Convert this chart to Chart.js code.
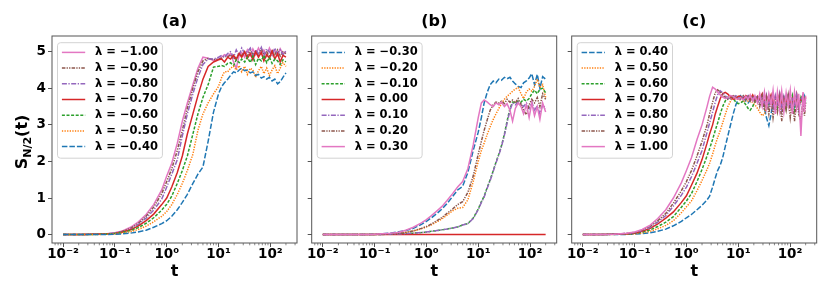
<!DOCTYPE html>
<html>
<head>
<meta charset="utf-8">
<script src="https://cdn.jsdelivr.net/npm/chart.js@4.4.1/dist/chart.umd.min.js"></script>
<style>
  body { margin: 0; background: #fff; width: 830px; height: 291px; position: relative; overflow: hidden; }
  canvas { position: absolute; top: 0; }
</style>
</head>
<body>
<canvas id="pa" width="304" height="291" style="left:0px"></canvas>
<canvas id="pb" width="262" height="291" style="left:300px"></canvas>
<canvas id="pc" width="270" height="291" style="left:560px"></canvas>
<script>
// time grids
const tAB = [0.01,0.02,0.04,0.07,0.1,0.14,0.2,0.28,0.4,0.56,0.8,1,1.25,1.6,2,2.5,3.2,4,5,6.3,8,10,
  11.5,13,15,17,19.5,22,25,28,32,36,41,46,52,59,67,75,85,96,108,122,138,155,175,200];
const tC = [0.01,0.02,0.04,0.07,0.1,0.14,0.2,0.28,0.4,0.56,0.8,1,1.25,1.6,2,2.5,2.8,3.2,3.6,4,4.5,5,5.6,6.3,7.1,8,9,10,
  11,12.5,14,15.5,17,19,21,23.5,26,29,32,35,39,43,47,52,57,63,69,76,84,92,101,111,122,134,147,162,178,190,200];

// lambda values per panel
const lamA = [-1.0, -0.9, -0.8, -0.7, -0.6, -0.5, -0.4];
const lamB = [-0.3, -0.2, -0.1, 0.0, 0.1, 0.2, 0.3];
const lamC = [0.4, 0.5, 0.6, 0.7, 0.8, 0.9, 1.0];

// tick labels
const yTicks = [0, 1, 2, 3, 4, 5];
const xTicks = [0.01, 0.1, 1, 10, 100];
const xTickText = ['10⁻²', '10⁻¹', '10⁰', '10¹', '10²'];

// panel (a)
const sA_n100 = [0,0,0.01,0.02,0.05,0.1,0.2,0.34,0.55,0.82,1.22,1.6,1.95,2.5,3.1,3.6,4.1,4.55,4.85,4.82,4.76,4.8,
  4.85,4.92,4.88,4.95,4.72,4.55,4.9,4.98,4.85,5.05,4.9,5.08,4.92,5.1,4.95,5.05,4.88,5.1,4.95,5.05,4.9,5.08,4.95,5.0];
const sA_n090 = [0,0,0.01,0.02,0.04,0.09,0.17,0.3,0.5,0.75,1.12,1.45,1.8,2.3,2.85,3.45,4.0,4.45,4.75,4.82,4.78,4.8,
  4.82,4.88,4.85,4.92,4.8,4.85,4.95,4.9,5.0,4.88,5.05,4.92,5.0,4.9,5.08,4.93,5.0,4.85,5.05,4.92,5.05,4.88,5.0,4.95];
const sA_n080 = [0,0,0.01,0.02,0.04,0.08,0.15,0.27,0.45,0.67,0.97,1.3,1.65,2.05,2.7,3.3,3.85,4.3,4.65,4.8,4.8,4.85,
  4.9,4.85,4.95,5.0,4.85,5.05,4.9,5.1,4.95,5.0,5.1,4.88,5.05,4.95,5.12,4.9,5.08,5.0,4.9,5.1,4.95,5.05,4.92,5.02];
const sA_n070 = [0,0,0.01,0.02,0.03,0.07,0.13,0.23,0.38,0.56,0.82,1.0,1.3,1.7,2.15,2.75,3.3,3.8,4.25,4.6,4.72,4.78,
  4.8,4.72,4.85,4.8,4.9,4.78,4.95,4.85,5.0,4.82,4.95,4.78,5.0,4.85,4.98,4.75,4.92,4.82,5.02,4.8,4.95,4.72,4.9,4.85];
const sA_n060 = [0,0,0.005,0.015,0.03,0.06,0.11,0.19,0.31,0.46,0.67,0.83,1.05,1.4,1.75,2.15,2.75,3.3,3.75,4.1,4.58,4.6,
  4.62,4.6,4.68,4.7,4.62,4.78,4.7,4.8,4.72,4.85,4.7,4.88,4.65,4.82,4.75,4.9,4.7,4.85,4.68,4.8,4.75,4.65,4.78,4.72];
const sA_n050 = [0,0,0,0.01,0.02,0.04,0.08,0.14,0.23,0.35,0.5,0.63,0.82,1.1,1.4,1.75,2.2,2.85,3.3,3.6,3.85,4.05,
  4.3,4.45,4.45,4.55,4.6,4.5,4.62,4.45,4.6,4.38,4.55,4.5,4.3,4.48,4.6,4.4,4.55,4.35,4.5,4.62,4.4,4.55,4.7,4.6];
const sA_n040 = [0,0,0,0.005,0.01,0.02,0.04,0.07,0.12,0.2,0.3,0.38,0.5,0.68,0.88,1.1,1.4,1.65,1.85,2.55,3.35,3.85,
  4.05,4.15,4.25,4.35,4.45,4.42,4.5,4.55,4.48,4.5,4.42,4.45,4.35,4.38,4.28,4.32,4.25,4.3,4.2,4.25,4.12,4.18,4.3,4.42];

// panel (b)
const sB_n030 = [0,0,0,0.005,0.01,0.02,0.04,0.07,0.11,0.17,0.28,0.36,0.46,0.58,0.7,0.85,1.04,1.22,1.32,1.7,2.3,2.8,
  3.2,3.6,3.9,4.1,4.2,4.15,4.25,4.22,4.3,4.26,4.3,4.2,4.12,4.05,4.02,4.15,4.2,4.28,4.4,4.1,4.38,4.0,4.32,4.25];
const sB_n020 = [0,0,0,0,0.005,0.01,0.02,0.03,0.06,0.1,0.16,0.21,0.27,0.35,0.43,0.53,0.65,0.72,0.74,0.95,1.45,2.0,
  2.3,2.5,2.75,2.95,3.15,3.3,3.45,3.58,3.7,3.78,3.85,3.92,3.98,4.02,3.85,3.72,3.9,3.98,3.92,4.05,4.25,4.02,4.1,3.75];
const sB_n010 = [0,0,0,0,0,0.005,0.01,0.015,0.025,0.04,0.055,0.07,0.09,0.11,0.13,0.15,0.18,0.21,0.26,0.3,0.45,0.7,
  0.9,1.05,1.3,1.5,1.75,1.98,2.2,2.42,2.75,3.1,3.45,3.62,3.6,3.65,3.62,3.7,3.65,3.72,3.85,3.95,3.85,3.98,4.0,3.88];
const sB_p000 = [0,0,0,0,0,0,0,0,0,0,0,0,0,0,0,0,0,0,0,0,0,0,
  0,0,0,0,0,0,0,0,0,0,0,0,0,0,0,0,0,0,0,0,0,0,0,0];
const sB_p010 = [0,0,0,0,0,0.005,0.01,0.015,0.025,0.04,0.055,0.07,0.09,0.11,0.13,0.15,0.18,0.21,0.26,0.3,0.44,0.68,
  0.88,1.03,1.28,1.48,1.73,1.96,2.18,2.4,2.72,3.05,3.4,3.6,3.55,3.62,3.58,3.5,3.6,3.45,3.62,3.4,3.52,3.3,3.55,3.45];
const sB_p020 = [0,0,0,0,0.005,0.01,0.02,0.03,0.06,0.1,0.17,0.22,0.29,0.38,0.47,0.58,0.7,0.82,0.9,1.15,1.6,2.2,
  2.55,2.85,3.15,3.4,3.55,3.62,3.6,3.65,3.58,3.7,3.62,3.68,3.6,3.72,3.55,3.4,3.28,3.55,3.7,3.6,3.75,3.5,3.85,3.7];
const sB_p030 = [0,0,0,0.005,0.01,0.02,0.035,0.06,0.12,0.2,0.32,0.41,0.52,0.65,0.77,0.93,1.12,1.3,1.45,1.8,2.45,3.2,
  3.6,3.68,3.62,3.55,3.5,3.6,3.55,3.62,3.5,3.58,3.4,3.1,3.45,3.6,3.5,3.3,3.55,3.2,3.6,3.25,3.5,3.15,3.6,3.35];

// panel (c)
const sC_p040 = [0,0,0,0.006,0.012,0.025,0.05,0.09,0.15,0.24,0.36,0.46,0.55,0.68,0.8,0.95,1.05,1.3,1.55,1.75,1.9,2.1,2.4,2.7,3.0,3.3,3.55,3.7,
  3.8,3.75,3.65,3.6,3.68,3.75,3.7,3.62,3.72,3.6,3.45,3.2,2.98,3.3,3.6,3.75,3.65,3.8,3.6,3.72,3.55,3.78,3.6,3.75,3.5,3.7,3.55,3.72,3.6,3.78,3.65];
const sC_p050 = [0,0,0.005,0.01,0.02,0.045,0.09,0.16,0.25,0.38,0.6,0.76,0.92,1.2,1.48,1.78,1.95,2.2,2.45,2.65,2.85,3.05,3.28,3.5,3.65,3.76,3.74,3.7,
  3.68,3.62,3.7,3.65,3.72,3.6,3.55,3.45,3.35,3.25,3.3,3.5,3.65,3.78,3.62,3.75,3.55,3.82,3.6,3.75,3.5,3.8,3.6,3.72,3.5,3.78,3.6,3.75,3.55,3.7,3.65];
const sC_p060 = [0,0,0.01,0.02,0.035,0.07,0.13,0.22,0.34,0.49,0.75,0.92,1.12,1.45,1.78,2.15,2.35,2.6,2.85,3.05,3.3,3.5,3.65,3.76,3.78,3.72,3.62,3.58,
  3.6,3.65,3.55,3.45,3.4,3.5,3.65,3.72,3.65,3.75,3.6,3.7,3.55,3.72,3.5,3.78,3.45,3.7,3.5,3.8,3.45,3.72,3.55,3.8,3.4,3.7,3.5,3.75,3.55,3.72,3.6];
const sC_p070 = [0,0,0.01,0.025,0.045,0.09,0.17,0.29,0.45,0.62,0.88,1.06,1.35,1.68,2.05,2.5,2.75,3.0,3.3,3.5,3.72,3.85,3.89,3.84,3.76,3.7,3.72,3.78,
  3.78,3.72,3.8,3.75,3.7,3.82,3.68,3.78,3.7,3.85,3.6,3.8,3.65,3.82,3.55,3.78,3.6,3.85,3.5,3.75,3.62,3.8,3.55,3.72,3.6,3.85,3.5,3.7,3.82,3.6,3.75];
const sC_p080 = [0,0,0.01,0.03,0.055,0.11,0.2,0.34,0.52,0.78,1.08,1.3,1.58,1.95,2.3,2.8,3.05,3.35,3.62,3.82,3.93,3.88,3.8,3.72,3.7,3.76,3.8,3.74,
  3.7,3.78,3.72,3.8,3.68,3.75,3.7,3.8,3.6,3.78,3.55,3.82,3.5,3.75,3.45,3.8,3.5,3.85,3.4,3.78,3.55,3.8,3.45,3.75,3.5,3.82,3.4,3.7,3.8,3.5,3.75];
const sC_p090 = [0,0,0.01,0.03,0.06,0.12,0.23,0.38,0.58,0.86,1.2,1.45,1.75,2.15,2.55,3.0,3.3,3.62,3.88,3.96,3.9,3.82,3.75,3.7,3.74,3.8,3.76,3.7,
  3.72,3.8,3.68,3.78,3.65,3.8,3.6,3.75,3.5,3.8,3.4,3.75,3.3,3.7,3.2,3.65,3.35,3.75,3.1,3.7,3.4,3.8,3.2,3.65,3.1,3.72,3.3,3.1,3.7,3.25,3.6];
const sC_p100 = [0,0,0.01,0.035,0.07,0.14,0.26,0.44,0.68,1.0,1.42,1.75,2.1,2.6,3.0,3.5,3.78,4.03,3.98,3.9,3.82,3.76,3.72,3.75,3.8,3.78,3.72,3.7,
  3.75,3.68,3.78,3.7,3.82,3.65,3.8,3.6,3.85,3.5,3.9,3.45,3.85,3.55,3.95,3.3,3.9,3.4,3.92,3.35,3.88,3.5,3.95,3.3,3.9,3.45,3.85,2.7,3.9,3.35,3.8];

const FONT = '"DejaVu Sans", sans-serif';
const XMIN = 0.0061, XMAX = 327;
const YMIN = -0.23, YMAX = 5.43;

const STY = {
  blue:   { c: '#1f77b4', d: [5.5, 2] },
  orange: { c: '#ff7f0e', d: [1.3, 1.3] },
  green:  { c: '#2ca02c', d: [3, 1.6] },
  red:    { c: '#d62728', d: [] },
  purple: { c: '#9467bd', d: [5, 1.5, 1.3, 1.5] },
  brown:  { c: '#8c564b', d: [3.5, 1.2, 1.3, 1.2, 1.3, 1.2] },
  pink:   { c: '#e377c2', d: [] }
};
const keysA = ['pink', 'brown', 'purple', 'red', 'green', 'orange', 'blue'];
const keysBC = ['blue', 'orange', 'green', 'red', 'purple', 'brown', 'pink'];

function lamLabel(v) {
  return 'λ = ' + (v < 0 ? '−' : '') + Math.abs(v).toFixed(2);
}

function roundRect(ctx, x, y, w, h, r) {
  ctx.beginPath();
  ctx.moveTo(x + r, y);
  ctx.arcTo(x + w, y, x + w, y + h, r);
  ctx.arcTo(x + w, y + h, x, y + h, r);
  ctx.arcTo(x, y + h, x, y, r);
  ctx.arcTo(x, y, x + w, y, r);
  ctx.closePath();
}

const decor = {
  id: 'decor',
  afterDraw(chart, args, o) {
    const { ctx, chartArea: a } = chart;
    const x = chart.scales.x;
    ctx.save();
    // frame
    ctx.strokeStyle = '#555';
    ctx.lineWidth = 1;
    ctx.strokeRect(a.left, a.top, a.right - a.left, a.bottom - a.top);
    // minor ticks
    ctx.lineWidth = 0.7;
    for (let k = -3; k <= 2; k++) {
      for (let m = 2; m <= 9; m++) {
        const v = m * Math.pow(10, k);
        if (v < XMIN || v > XMAX) continue;
        const px = x.getPixelForValue(v);
        ctx.beginPath();
        ctx.moveTo(px, a.bottom);
        ctx.lineTo(px, a.bottom + 2.3);
        ctx.stroke();
      }
    }
    // legend
    ctx.font = 'bold 11.5px ' + FONT;
    const ds = chart.data.datasets;
    const tw = Math.max(...ds.map(d => ctx.measureText(d.label).width));
    const bx = a.left + 5.5, by = a.top + 6.7, bw = 37.5 + tw + 4.5, bh = 115.5;
    roundRect(ctx, bx, by, bw, bh, 3);
    ctx.fillStyle = 'rgba(255,255,255,0.85)';
    ctx.fill();
    ctx.strokeStyle = '#d3d3d3';
    ctx.lineWidth = 1;
    ctx.stroke();
    ds.forEach((d, i) => {
      const y = by + 9.7 + i * 15.7;
      ctx.strokeStyle = d.borderColor;
      ctx.lineWidth = d.borderWidth;
      ctx.setLineDash(d.borderDash);
      ctx.beginPath();
      ctx.moveTo(bx + 4.4, y);
      ctx.lineTo(bx + 27.7, y);
      ctx.stroke();
      ctx.setLineDash([]);
      ctx.fillStyle = '#000';
      ctx.textAlign = 'left';
      ctx.textBaseline = 'middle';
      ctx.fillText(d.label, bx + 37.5, y);
    });
    // title
    ctx.fillStyle = '#000';
    ctx.font = 'bold 16px ' + FONT;
    ctx.textAlign = 'center';
    ctx.textBaseline = 'middle';
    ctx.fillText(o.title, (a.left + a.right) / 2, 22);
    // y label S_{N/2}(t)
    if (o.ylabel) {
      ctx.translate(27, 142);
      ctx.rotate(-Math.PI / 2);
      ctx.textAlign = 'left';
      ctx.textBaseline = 'alphabetic';
      const big = 'bold 16px ' + FONT, small = 'bold 11px ' + FONT;
      ctx.font = big; const w1 = ctx.measureText('S').width, w3 = ctx.measureText('(t)').width;
      ctx.font = small; const w2 = ctx.measureText('N/2').width;
      let px = -(w1 + w2 + w3) / 2;
      ctx.font = big; ctx.fillText('S', px, 0); px += w1;
      ctx.font = small; ctx.fillText('N/2', px, 3.5); px += w2;
      ctx.font = big; ctx.fillText('(t)', px, 0);
    }
    ctx.restore();
  }
};

function makePanel(id, title, t, lams, keys, series, yw, padR, showY) {
  const datasets = series.map((s, i) => ({
    label: lamLabel(lams[i]),
    data: s,
    borderColor: STY[keys[i]].c,
    borderDash: STY[keys[i]].d,
    borderWidth: 1.5,
    pointRadius: 0,
    fill: false,
    tension: 0,
    order: series.length - i
  }));
  new Chart(document.getElementById(id), {
    type: 'line',
    data: { labels: t, datasets },
    plugins: [decor],
    options: {
      responsive: false,
      animation: false,
      layout: { padding: { left: 0, right: padR, top: 36, bottom: 0 } },
      plugins: {
        legend: { display: false },
        tooltip: { enabled: false },
        decor: { title, ylabel: showY }
      },
      scales: {
        x: {
          type: 'logarithmic',
          min: XMIN, max: XMAX,
          afterFit: s => { s.height = 48; },
          afterBuildTicks: s => { s.ticks = xTicks.map(v => ({ value: v, major: true })); },
          ticks: {
            autoSkip: false, maxRotation: 0, minRotation: 0, padding: -1, color: '#000',
            font: { family: FONT, size: 13.5, weight: 'bold' },
            callback: (v, i) => xTickText[i]
          },
          grid: { drawOnChartArea: false, drawTicks: true, tickLength: 4, tickColor: '#555', tickWidth: 1 },
          border: { display: false },
          title: {
            display: true, text: 't', color: '#000',
            font: { family: FONT, size: 16, weight: 'bold' },
            padding: { top: 0, bottom: 9.5 }
          }
        },
        y: {
          type: 'linear',
          min: YMIN, max: YMAX,
          afterFit: s => { s.width = yw; },
          afterBuildTicks: s => { s.ticks = yTicks.map(v => ({ value: v })); },
          ticks: {
            padding: 2, color: '#000',
            font: { family: FONT, size: 13.5, weight: 'bold' },
            callback: v => showY ? String(v) : ''
          },
          grid: { drawOnChartArea: false, drawTicks: true, tickLength: 4, tickColor: '#555', tickWidth: 1 },
          border: { display: false }
        }
      }
    }
  });
}

makePanel('pa', '(a)', tAB, lamA, keysA,
  [sA_n100, sA_n090, sA_n080, sA_n070, sA_n060, sA_n050, sA_n040], 52, 7, true);
makePanel('pb', '(b)', tAB, lamB, keysBC,
  [sB_n030, sB_n020, sB_n010, sB_p000, sB_p010, sB_p020, sB_p030], 11.7, 5.3, false);
makePanel('pc', '(c)', tC, lamC, keysBC,
  [sC_p040, sC_p050, sC_p060, sC_p070, sC_p080, sC_p090, sC_p100], 11.7, 13.3, false);
</script>
</body>
</html>
